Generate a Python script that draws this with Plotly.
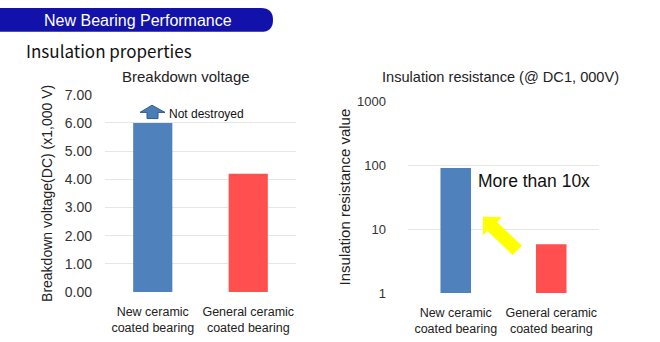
import plotly.graph_objects as go

categories = ["New ceramic<br>coated bearing", "General ceramic<br>coated bearing"]
breakdown_kv = [6.0, 4.2]
resistance = [90, 5.8]
bar_colors = ["#4f81bd", "#ff4f4f"]
voltage_ticks = [0, 1, 2, 3, 4, 5, 6, 7]
resistance_ticks = [1, 10, 100, 1000]

W, H = 660, 342
def px(x): return x / W
def py(y): return 1 - y / H

FONT = "Liberation Sans, Arial, sans-serif"
fig = go.Figure()
fig.add_trace(go.Bar(x=categories, y=breakdown_kv, marker=dict(color=bar_colors, line=dict(width=0)),
                     xaxis="x", yaxis="y", showlegend=False, hoverinfo="skip", width=0.41))
fig.add_trace(go.Bar(x=categories, y=resistance, marker=dict(color=bar_colors, line=dict(width=0)),
                     xaxis="x2", yaxis="y2", showlegend=False, hoverinfo="skip", width=0.32))

grid = "#e6e6e6"
fig.update_layout(
    width=W, height=H, margin=dict(l=0, r=0, t=0, b=0),
    paper_bgcolor="white", plot_bgcolor="white",
    font=dict(family=FONT, color="#222", size=12),
    xaxis=dict(domain=[px(105), px(296)], anchor="y", showgrid=False, showline=False,
               tickfont=dict(size=12.5, color="#222"), ticklabelstandoff=10, fixedrange=True),
    yaxis=dict(domain=[py(298), py(91)], anchor="x", range=[0, 7], tickvals=voltage_ticks,
               tickformat=".2f", showgrid=True, gridcolor=grid, zeroline=False,
               tickfont=dict(size=14, color="#333"), ticklabelstandoff=12,
               title=dict(text="Breakdown voltage(DC) (x1,000 V)", font=dict(size=14, color="#222"), standoff=8)),
    xaxis2=dict(domain=[px(408), px(599)], anchor="y2", showgrid=False, showline=False,
                tickfont=dict(size=12.5, color="#222"), ticklabelstandoff=10, fixedrange=True),
    yaxis2=dict(domain=[py(299), py(97.7)], anchor="x2", type="log", range=[0, 3],
                tickvals=resistance_ticks, ticktext=[str(v) for v in resistance_ticks],
                showgrid=True, gridcolor=grid, zeroline=False,
                tickfont=dict(size=13, color="#333"), ticklabelstandoff=21,
                title=dict(text="Insulation resistance value", font=dict(size=15, color="#222"), standoff=2)),
)

shapes = []
# header pill
shapes.append(dict(type="path", xref="paper", yref="paper",
                   path=f"M {px(0)} {py(0)} L {px(261)} {py(0)} Q {px(273)} {py(0)} {px(273)} {py(12.5)} "
                        f"Q {px(273)} {py(25)} {px(261)} {py(25)} L {px(0)} {py(25)} Z",
                   fillcolor="#1212aa", line=dict(width=0)))
# blue block arrow (Not destroyed)
pts = [(152, 102), (165, 109.5), (158, 109.5), (158, 116), (147, 116), (147, 109.5), (140, 109.5)]
shapes.append(dict(type="path", xref="paper", yref="paper",
                   path="M " + " L ".join(f"{px(x)} {py(y)}" for x, y in pts) + " Z",
                   fillcolor="#4a7db5", line=dict(width=1, color="#2f5b8c")))
# yellow arrow
ypts = [(483, 219), (502, 219.5), (497, 224.5), (522, 249.5), (512.5, 259), (487.5, 234), (483, 238.5)]
shapes.append(dict(type="path", xref="paper", yref="paper",
                   path="M " + " L ".join(f"{px(x)} {py(y)}" for x, y in ypts) + " Z",
                   fillcolor="#ffff00", line=dict(width=0)))
fig.update_layout(shapes=shapes)

ann = [
    dict(text="New Bearing Performance", x=px(138), y=py(13), font=dict(size=16, color="white"),
         xanchor="center", yanchor="middle"),
    dict(text="Insulation properties", x=px(24), y=py(45), font=dict(size=17, color="#111", family="Noto Sans CJK JP, sans-serif"),
         xanchor="left", yanchor="middle"),
    dict(text="Breakdown voltage", x=px(186), y=py(72), font=dict(size=15, color="#222"),
         xanchor="center", yanchor="middle"),
    dict(text="Insulation resistance (@ DC1, 000V)", x=px(500), y=py(72), font=dict(size=14.6, color="#222"),
         xanchor="center", yanchor="middle"),
    dict(text="Not destroyed", x=px(167), y=py(111), font=dict(size=12, color="#111"),
         xanchor="left", yanchor="middle"),
    dict(text="More than 10x", x=px(476), y=py(181), font=dict(size=17.5, color="#111"),
         xanchor="left", yanchor="middle"),
]
for a in ann:
    a.update(xref="paper", yref="paper", showarrow=False)
fig.update_layout(annotations=ann)

fig.write_html("out.html")
